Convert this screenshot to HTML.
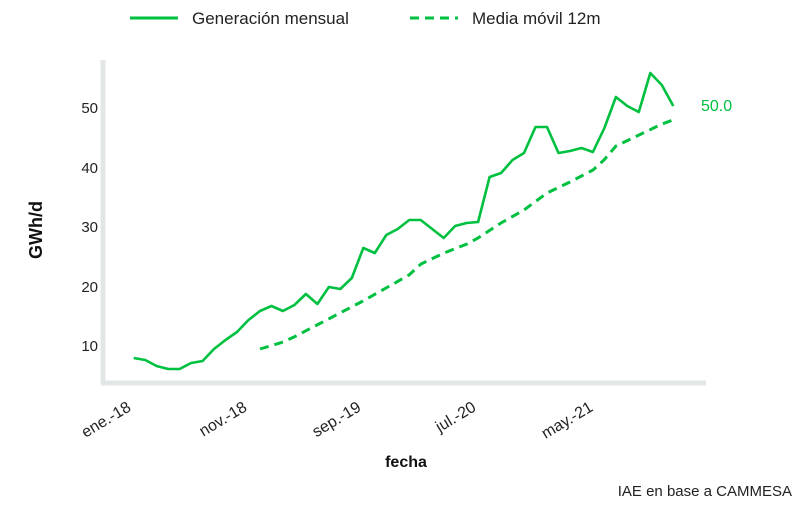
<!DOCTYPE html>
<html><head><meta charset="utf-8"><style>
body{margin:0;background:#fff;width:802px;height:508px;overflow:hidden}
svg text{font-family:"Liberation Sans",sans-serif}
</style></head><body>
<svg width="802" height="508" viewBox="0 0 802 508">
<rect width="802" height="508" fill="#fff"/>
<line x1="103" y1="60" x2="103" y2="383" stroke="#e3e6e7" stroke-width="5"/>
<line x1="101" y1="383" x2="706" y2="383" stroke="#e3e6e7" stroke-width="5"/>
<g font-size="15" fill="#222" text-anchor="end">
<text x="98" y="113">50</text><text x="98" y="173">40</text><text x="98" y="232">30</text>
<text x="98" y="292">20</text><text x="98" y="351">10</text>
</g>
<g font-size="16" fill="#222" text-anchor="end">
<text transform="translate(132,410) rotate(-31)">ene.-18</text>
<text transform="translate(248,410) rotate(-31)">nov.-18</text>
<text transform="translate(362,410) rotate(-31)">sep.-19</text>
<text transform="translate(477,410) rotate(-31)">jul.-20</text>
<text transform="translate(594,410) rotate(-31)">may.-21</text>
</g>
<text transform="translate(42,230) rotate(-90)" font-size="18" font-weight="bold" text-anchor="middle" fill="#111">GWh/d</text>
<text x="406" y="467" font-size="16" font-weight="bold" text-anchor="middle" fill="#111">fecha</text>
<text x="792" y="496" font-size="15" text-anchor="end" fill="#222">IAE en base a CAMMESA</text>
<text x="701" y="111" font-size="16" fill="#00c040">50.0</text>
<line x1="130" y1="18" x2="178" y2="18" stroke="#00c040" stroke-width="3"/>
<text x="192" y="24" font-size="17" fill="#222">Generación mensual</text>
<line x1="410" y1="18" x2="458" y2="18" stroke="#00c040" stroke-width="3" stroke-dasharray="9,6"/>
<text x="472" y="24" font-size="17" fill="#222">Media móvil 12m</text>
<polyline fill="none" stroke="#00c040" stroke-width="2.6" stroke-linejoin="round" points="133.7,358 145.2,360 156.6,366 168.1,369 179.6,369 191.1,363 202.6,361 214.0,349 225.5,340 237.0,332 248.5,320 260.0,311 271.5,306 282.9,311 294.4,305 305.9,294 317.4,304 328.9,287 340.3,289 351.8,278 363.3,248 374.8,253 386.3,235 397.7,229 409.2,220 420.7,220 432.2,229 443.7,238 455.1,226 466.6,223 478.1,222 489.6,177 501.1,173 512.5,160 524.0,153 535.5,127 547.0,127 558.5,153 569.9,151 581.4,148 592.9,152 604.4,128 615.9,97 627.3,106 638.8,112 650.3,73 661.8,85 673.3,106"/>
<polyline fill="none" stroke="#00c040" stroke-width="3" stroke-dasharray="9,6" points="260,349 283,342 294,337 317,325 340,313 363,301 386,288 409,275 421,264 444,253 467,244 478,238 501,223 524,210 547,193 570,182 593,170 604,160 616,146 639,135 662,124 673,120"/>
</svg>
</body></html>
